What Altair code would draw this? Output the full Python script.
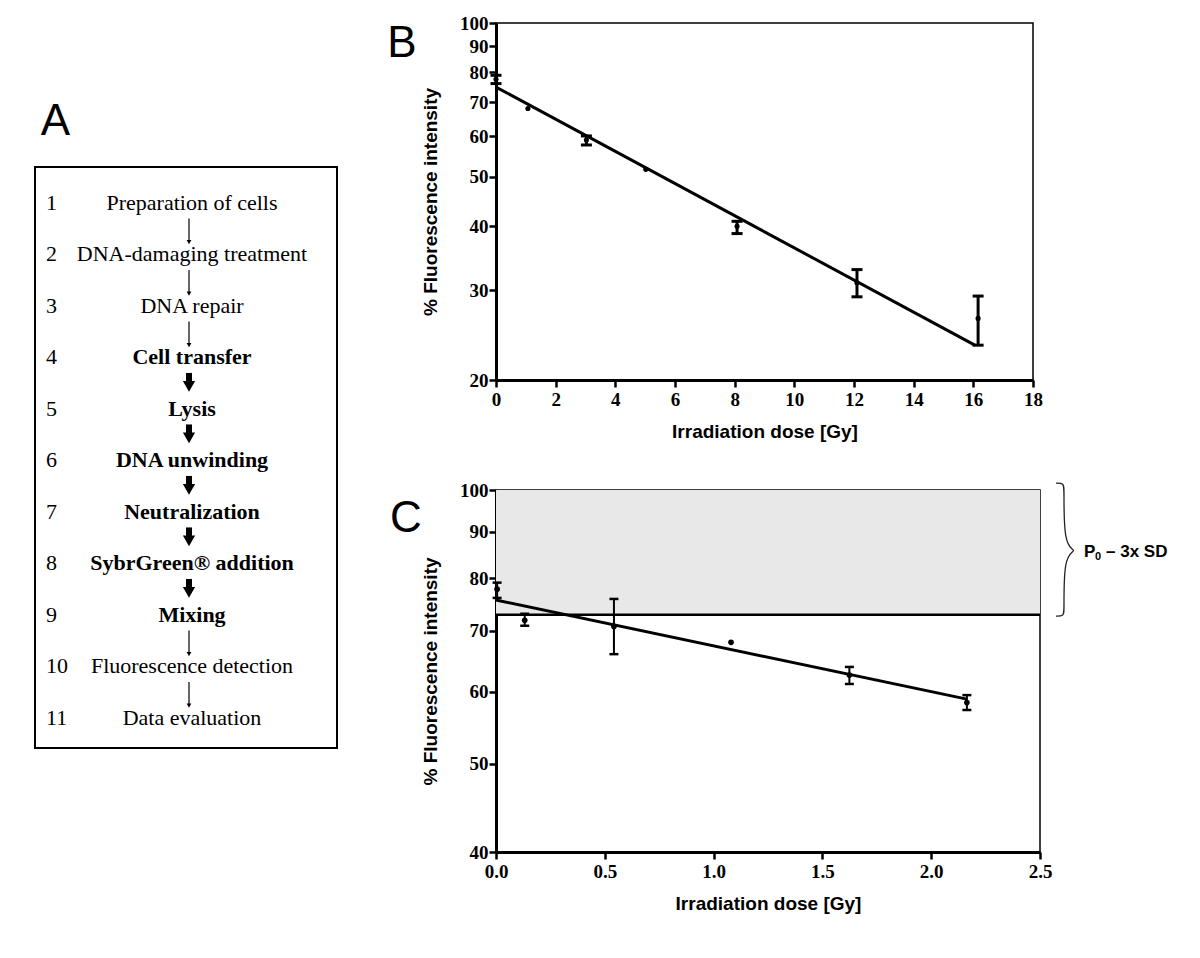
import altair as alt
import pandas as pd
import numpy as np

# ---------------- Panel A: workflow ----------------
step_num = list(range(1, 12))
step_text = [
    "Preparation of cells", "DNA-damaging treatment", "DNA repair",
    "Cell transfer", "Lysis", "DNA unwinding", "Neutralization",
    "SybrGreen® addition", "Mixing", "Fluorescence detection", "Data evaluation",
]
step_bold = [False, False, False, True, True, True, True, True, True, False, False]
arrow_thick = [False, False, False, True, True, True, True, True, False, False]

# ---------------- Panel B ----------------
b_dose = [0.0, 1.07, 3.03, 5.02, 8.08, 12.1, 16.16]
b_mean = [77.6, 68.0, 59.0, 51.7, 40.0, 31.0, 26.4]
b_low = [76.1, None, 57.7, None, 38.7, 29.1, 23.4]
b_high = [79.0, None, 60.1, None, 40.9, 32.9, 29.2]
b_fit_dose = [0.0, 16.05]
b_fit_value = [74.9, 23.4]
b_ticks_x = [0, 2, 4, 6, 8, 10, 12, 14, 16, 18]
b_ticks_y = [20, 30, 40, 50, 60, 70, 80, 90, 100]

# ---------------- Panel C ----------------
c_dose = [0.005, 0.132, 0.542, 1.08, 1.624, 2.164]
c_mean = [77.8, 71.9, 70.8, 68.0, 62.6, 58.4]
c_low = [76.1, 70.9, 66.0, None, 61.2, 57.3]
c_high = [79.1, 73.1, 75.9, None, 63.9, 59.5]
c_fit_dose = [0.0, 2.164]
c_fit_value = [75.7, 58.9]
c_threshold = 72.9
c_band_top = 100
c_label_main = "P"
c_label_sub = "0"
c_label_rest = "– 3x SD"
c_ticks_x = [0.0, 0.5, 1.0, 1.5, 2.0, 2.5]
c_ticks_y = [40, 50, 60, 70, 80, 90, 100]

SERIF = "Liberation Serif"
SANS = "Liberation Sans"

# ======== Panel A ========
WA, HA = 302, 829
ystep = alt.Scale(domain=[-2.495, 13.602], reverse=True, nice=False, zero=False)
steps_df = pd.DataFrame({"step": step_num, "label": step_text, "bold": step_bold})
arr_df = pd.DataFrame({"start": step_num[:-1], "thick": arrow_thick})
arr_df["y0"] = arr_df["start"] + 0.3
arr_df["y1"] = arr_df["start"] + np.where(arr_df["thick"], 0.56, 0.76)
one = pd.DataFrame({"k": [0]})

box = alt.Chart(one).mark_rect(fill="white", stroke="black", strokeWidth=2).encode(
    x=alt.value(0), x2=alt.value(WA),
    y=alt.Y(datum=0.301, scale=ystep, axis=None), y2=alt.Y2(datum=11.583))
letterA = alt.Chart(one).mark_text(text="A", font=SANS, fontSize=44, baseline="alphabetic",
                                   align="center", color="black").encode(
    x=alt.value(20.5), y=alt.value(112))
nums = alt.Chart(steps_df).mark_text(align="left", baseline="middle", font=SERIF,
                                     fontSize=22, color="black").encode(
    x=alt.value(11), y=alt.Y("step:Q", scale=ystep, axis=None),
    text=alt.Text("step:Q", format="d"))
lab_norm = alt.Chart(steps_df).transform_filter("!datum.bold").mark_text(
    align="center", baseline="middle", font=SERIF, fontSize=22, color="black").encode(
    x=alt.value(157), y=alt.Y("step:Q", scale=ystep, axis=None), text="label:N")
lab_bold = alt.Chart(steps_df).transform_filter("datum.bold").mark_text(
    align="center", baseline="middle", font=SERIF, fontSize=22, fontWeight="bold",
    color="black").encode(
    x=alt.value(157), y=alt.Y("step:Q", scale=ystep, axis=None), text="label:N")
shaft_thin = alt.Chart(arr_df).transform_filter("!datum.thick").mark_rule(
    color="black", strokeWidth=1.2).encode(
    x=alt.value(154), y=alt.Y("y0:Q", scale=ystep, axis=None), y2="y1:Q")
head_thin = alt.Chart(arr_df).transform_filter("!datum.thick").mark_point(
    shape="triangle-down", filled=True, color="black", opacity=1, size=22).encode(
    x=alt.value(154), y=alt.Y("y1:Q", scale=ystep, axis=None))
shaft_thick = alt.Chart(arr_df).transform_filter("datum.thick").mark_rule(
    color="black", strokeWidth=6).encode(
    x=alt.value(154), y=alt.Y("y0:Q", scale=ystep, axis=None), y2="y1:Q")
head_thick = alt.Chart(arr_df).transform_filter("datum.thick").mark_point(
    shape="triangle-down", filled=True, color="black", opacity=1, size=150).encode(
    x=alt.value(154), y=alt.Y("y1:Q", scale=ystep, axis=None))

panelA = alt.layer(box, letterA, nums, lab_norm, lab_bold, shaft_thin, head_thin,
                   shaft_thick, head_thick).properties(
    width=WA, height=HA, view=alt.ViewBackground(stroke="transparent"))


# ======== Panels B and C ========
def scatter_panel(dose, mean, low, high, fit_dose, fit_value, xdom, xticks, xfmt,
                  ydom, yticks, W, H, letter, letter_x, letter_y,
                  rule_w, cap_w, cap_size, pt_size, extra_below=None, extra_above=None):
    xs = alt.Scale(domain=xdom, nice=False, zero=False)
    ys = alt.Scale(type="log", domain=ydom, nice=False)
    xa = alt.Axis(values=xticks, format=xfmt, title="Irradiation dose [Gy]")
    ya = alt.Axis(values=yticks, format="d", title="% Fluorescence intensity")

    def X(f):
        return alt.X(f, scale=xs, axis=xa)

    def Y(f):
        return alt.Y(f, scale=ys, axis=ya)

    pts = pd.DataFrame({"dose": dose, "mean": mean})
    err = pd.DataFrame({"dose": dose, "low": low, "high": high}).dropna()
    caps = err.melt(id_vars="dose", value_vars=["low", "high"], value_name="v")
    fit = pd.DataFrame({"dose": fit_dose, "v": fit_value})

    layers = []
    if extra_below is not None:
        layers += extra_below(X, Y)
    layers += [
        alt.Chart(fit).mark_line(color="black", strokeWidth=3).encode(x=X("dose:Q"), y=Y("v:Q")),
        alt.Chart(err).mark_rule(color="black", strokeWidth=rule_w).encode(
            x=X("dose:Q"), y=Y("low:Q"), y2="high:Q"),
        alt.Chart(caps).mark_tick(color="black", orient="horizontal", size=cap_size,
                                  thickness=cap_w, opacity=1).encode(x=X("dose:Q"), y=Y("v:Q")),
        alt.Chart(pts).mark_circle(color="black", opacity=1, size=pt_size).encode(
            x=X("dose:Q"), y=Y("mean:Q")),
        alt.Chart(one).mark_text(text=letter, font=SANS, fontSize=44, baseline="alphabetic",
                                 align="center", color="black").encode(
            x=alt.value(letter_x), y=alt.value(letter_y)),
    ]
    if extra_above is not None:
        layers += extra_above(X, Y)
    return alt.layer(*layers).properties(width=W, height=H)


panelB = scatter_panel(b_dose, b_mean, b_low, b_high, b_fit_dose, b_fit_value,
                       [0, 18], b_ticks_x, "d", [20, 100], b_ticks_y, 537, 357,
                       "B", -94, 34, 3, 3, 11, 26)

WC = 544
px_per_unit = WC / 2.5


def band_layers(X, Y):
    band = pd.DataFrame({"lo": [c_threshold], "hi": [c_band_top]})
    return [
        alt.Chart(band).mark_rect(fill="#e8e8e8").encode(
            x=alt.value(0), x2=alt.value(WC), y=Y("lo:Q"), y2="hi:Q"),
        alt.Chart(band).mark_rule(color="black", strokeWidth=2.5).encode(y=Y("lo:Q")),
    ]


def brace_layers(X, Y):
    t = [-0.055, -0.055, 0.0, 0.42, 0.485, 0.485, 0.55, 0.96, 1.01, 1.01]
    dx = [16, 24, 24, 24, 34, 34, 24, 24, 24, 16]
    lo, hi = np.log(c_threshold), np.log(c_band_top)
    br = pd.DataFrame({
        "i": list(range(len(t))),
        "dose": [2.5 + d / px_per_unit for d in dx],
        "v": [float(np.exp(hi - tt * (hi - lo))) for tt in t],
    })
    lab = pd.DataFrame({"dose": [2.5 + 44 / px_per_unit],
                        "v": [float(np.exp((hi + lo) / 2))],
                        "main": [c_label_main], "sub": [c_label_sub], "rest": [c_label_rest]})
    txt = dict(align="left", baseline="middle", font=SANS, fontWeight="bold", color="black")
    return [
        alt.Chart(br).mark_line(color="#222", strokeWidth=1.3, interpolate="basis").encode(
            x=X("dose:Q"), y=Y("v:Q"), order="i:Q"),
        alt.Chart(lab).mark_text(fontSize=17, **txt).encode(
            x=X("dose:Q"), y=Y("v:Q"), text="main:N"),
        alt.Chart(lab).mark_text(fontSize=11, dx=11, dy=5, **txt).encode(
            x=X("dose:Q"), y=Y("v:Q"), text="sub:N"),
        alt.Chart(lab).mark_text(fontSize=17, dx=22, **txt).encode(
            x=X("dose:Q"), y=Y("v:Q"), text="rest:N"),
    ]


panelC = scatter_panel(c_dose, c_mean, c_low, c_high, c_fit_dose, c_fit_value,
                       [0, 2.5], c_ticks_x, ".1f", [40, 100], c_ticks_y, WC, 362,
                       "C", -90, 42, 2, 2.5, 9, 32,
                       extra_below=band_layers, extra_above=brace_layers)

right = alt.vconcat(panelB, panelC, spacing=110, bounds="flush")
chart = alt.hconcat(panelA, right, spacing=159, bounds="flush").properties(
    padding={"left": 25, "top": 5, "right": 5, "bottom": 5}
).configure_view(stroke="black", strokeWidth=1.5).configure_axis(
    domainColor="black", domainWidth=3, tickColor="black", tickWidth=2.5, tickSize=7,
    labelFont=SERIF, labelFontWeight="bold", labelFontSize=19, labelColor="black",
    titleFont=SANS, titleFontWeight="bold", titleFontSize=19, titleColor="black",
    grid=False, labelFlush=False, labelOverlap=False,
).configure_axisX(labelPadding=3, titlePadding=13).configure_axisY(
    labelPadding=1, titlePadding=19)

chart.save("out.html", embed_options={"renderer": "svg", "actions": False})
